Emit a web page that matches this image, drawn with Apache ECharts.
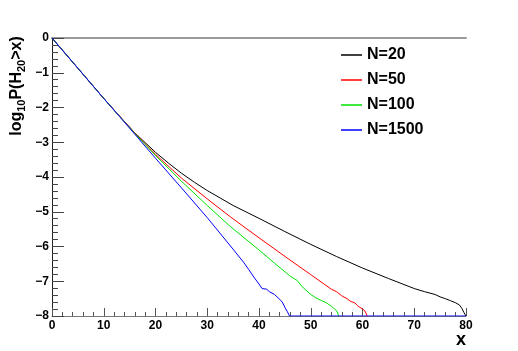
<!DOCTYPE html>
<html>
<head>
<meta charset="utf-8">
<script src="https://cdn.jsdelivr.net/npm/echarts@6/dist/echarts.min.js"></script>
<style>
  html, body { margin: 0; padding: 0; background: #fff; }
  #main { width: 518px; height: 351px; }
</style>
</head>
<body>
<div id="main"></div>
<script>
// legend names
var names = ['N=20', 'N=50', 'N=100', 'N=1500'];
var colors = ['#000000', '#ff0000', '#00e000', '#0000ff'];

// x positions / log10 P values
var x20 = [0, 5, 10, 13, 16, 18, 20, 22.5, 25, 27.5, 30, 35, 40, 45, 50, 55, 60, 65, 70, 72, 74, 75, 76, 77, 78, 78.7, 79.2, 79.6, 80];
var y20 = [0, -0.87, -1.74, -2.24, -2.73, -3.01, -3.29, -3.6, -3.89, -4.15, -4.39, -4.82, -5.19, -5.57, -5.94, -6.29, -6.62, -6.92, -7.21, -7.3, -7.38, -7.45, -7.5, -7.56, -7.62, -7.68, -7.78, -7.9, -8];

var x50 = [0, 5, 10, 13, 16, 20, 25, 30, 34.5, 40, 46, 50, 54, 55, 56, 57, 57.7, 58.5, 59, 60, 60.5, 60.9];
var y50 = [0, -0.87, -1.74, -2.24, -2.74, -3.35, -4.03, -4.63, -5.15, -5.75, -6.39, -6.81, -7.23, -7.3, -7.42, -7.5, -7.58, -7.62, -7.7, -7.8, -7.86, -8];

var x100 = [0, 5, 10, 13, 16, 20, 25, 30, 34.5, 40, 43, 46, 47.4, 48.3, 50, 51, 52, 53, 54, 55, 55.4];
var y100 = [0, -0.87, -1.74, -2.25, -2.75, -3.38, -4.12, -4.82, -5.43, -6.1, -6.48, -6.85, -6.98, -7.15, -7.38, -7.48, -7.55, -7.62, -7.72, -7.85, -8];

var x1500 = [0, 5, 10, 13, 16, 20, 25, 30, 35, 37, 38, 39, 40, 40.6, 41.5, 42, 43, 44, 44.5, 45, 45.5, 45.9, 80];
var y1500 = [0, -0.87, -1.74, -2.25, -2.77, -3.46, -4.31, -5.17, -6.08, -6.45, -6.66, -6.88, -7.08, -7.21, -7.23, -7.3, -7.38, -7.52, -7.6, -7.75, -7.88, -8, -8];

var xTicks = [0, 10, 20, 30, 40, 50, 60, 70, 80];
var yTicks = [-8, -7, -6, -5, -4, -3, -2, -1, 0];

function pairs(xs, ys) {
  var out = [];
  for (var i = 0; i < xs.length; i++) {
    out.push([xs[i], ys[i]]);
  }
  return out;
}

var seriesData = [pairs(x20, y20), pairs(x50, y50), pairs(x100, y100), pairs(x1500, y1500)];

var myChart = echarts.init(document.getElementById('main'));

var labelFont = {
  color: '#000',
  fontFamily: 'Liberation Sans, Arial, sans-serif',
  fontWeight: 'bold',
  fontSize: 12
};

var option = {
  animation: false,
  backgroundColor: '#fff',
  grid: { left: 52, right: 52, top: 38, bottom: 35 },
  legend: {
    orient: 'vertical',
    left: 336,
    top: 42,
    icon: 'rect',
    itemWidth: 21,
    itemHeight: 1.5,
    itemGap: 9,
    data: names,
    textStyle: {
      color: '#000',
      fontFamily: 'Liberation Sans, Arial, sans-serif',
      fontWeight: 'bold',
      fontSize: 16,
      lineHeight: 14
    }
  },
  xAxis: [
    {
      type: 'value',
      min: xTicks[0],
      max: xTicks[xTicks.length - 1],
      interval: 10,
      axisLine: { onZero: false, lineStyle: { color: '#777', width: 1 } },
      axisTick: { inside: true, length: 8, lineStyle: { color: '#555' } },
      minorTick: { show: true, splitNumber: 5, length: 4, lineStyle: { color: '#555' } },
      splitLine: { show: false },
      axisLabel: Object.assign({ margin: 4 }, labelFont)
    },
    {
      type: 'value',
      position: 'top',
      offset: 3,
      min: 0,
      max: 80,
      axisLine: { show: true, lineStyle: { color: '#999', width: 2 } },
      axisTick: { show: false },
      axisLabel: { show: false },
      splitLine: { show: false }
    }
  ],
  yAxis: [
    {
      type: 'value',
      min: yTicks[0],
      max: yTicks[yTicks.length - 1],
      interval: 1,
      axisLine: { onZero: false, lineStyle: { color: '#444', width: 1 } },
      axisTick: { inside: true, length: 12, lineStyle: { color: '#444' } },
      minorTick: { show: true, splitNumber: 5, length: 6, lineStyle: { color: '#444' } },
      splitLine: { show: false },
      axisLabel: Object.assign({
        margin: 3,
        formatter: function (v) { return v < 0 ? '\u2212' + Math.abs(v) : String(v); }
      }, labelFont)
    },
    {
      type: 'value',
      position: 'right',
      min: -8,
      max: 0,
      axisLine: { show: true, lineStyle: { color: '#222', width: 1 } },
      axisTick: { show: false },
      axisLabel: { show: false },
      splitLine: { show: false }
    }
  ],
  graphic: [
    {
      type: 'text',
      x: 17,
      y: 86,
      rotation: Math.PI / 2,
      style: {
        text: '{a|log}{s|10}{a|P(H}{s|20}{a|>x)}',
        align: 'center',
        verticalAlign: 'middle',
        rich: {
          a: { fontFamily: 'Liberation Sans, Arial, sans-serif', fontWeight: 'bold', fontSize: 16, fill: '#000', lineHeight: 22 },
          s: { fontFamily: 'Liberation Sans, Arial, sans-serif', fontWeight: 'bold', fontSize: 11, fill: '#000', lineHeight: 22, padding: [9, 0, 0, 0] }
        }
      }
    },
    {
      type: 'text',
      x: 461,
      y: 340,
      style: {
        text: 'x',
        align: 'center',
        verticalAlign: 'middle',
        fontFamily: 'Liberation Sans, Arial, sans-serif',
        fontWeight: 'bold',
        fontSize: 18,
        fill: '#000'
      }
    }
  ],
  series: names.map(function (n, i) {
    return {
      name: n,
      type: 'line',
      symbol: 'none',
      data: seriesData[i],
      color: colors[i],
      lineStyle: { width: 1, color: colors[i] },
      z: 2 + i
    };
  })
};

myChart.setOption(option);
</script>
</body>
</html>
